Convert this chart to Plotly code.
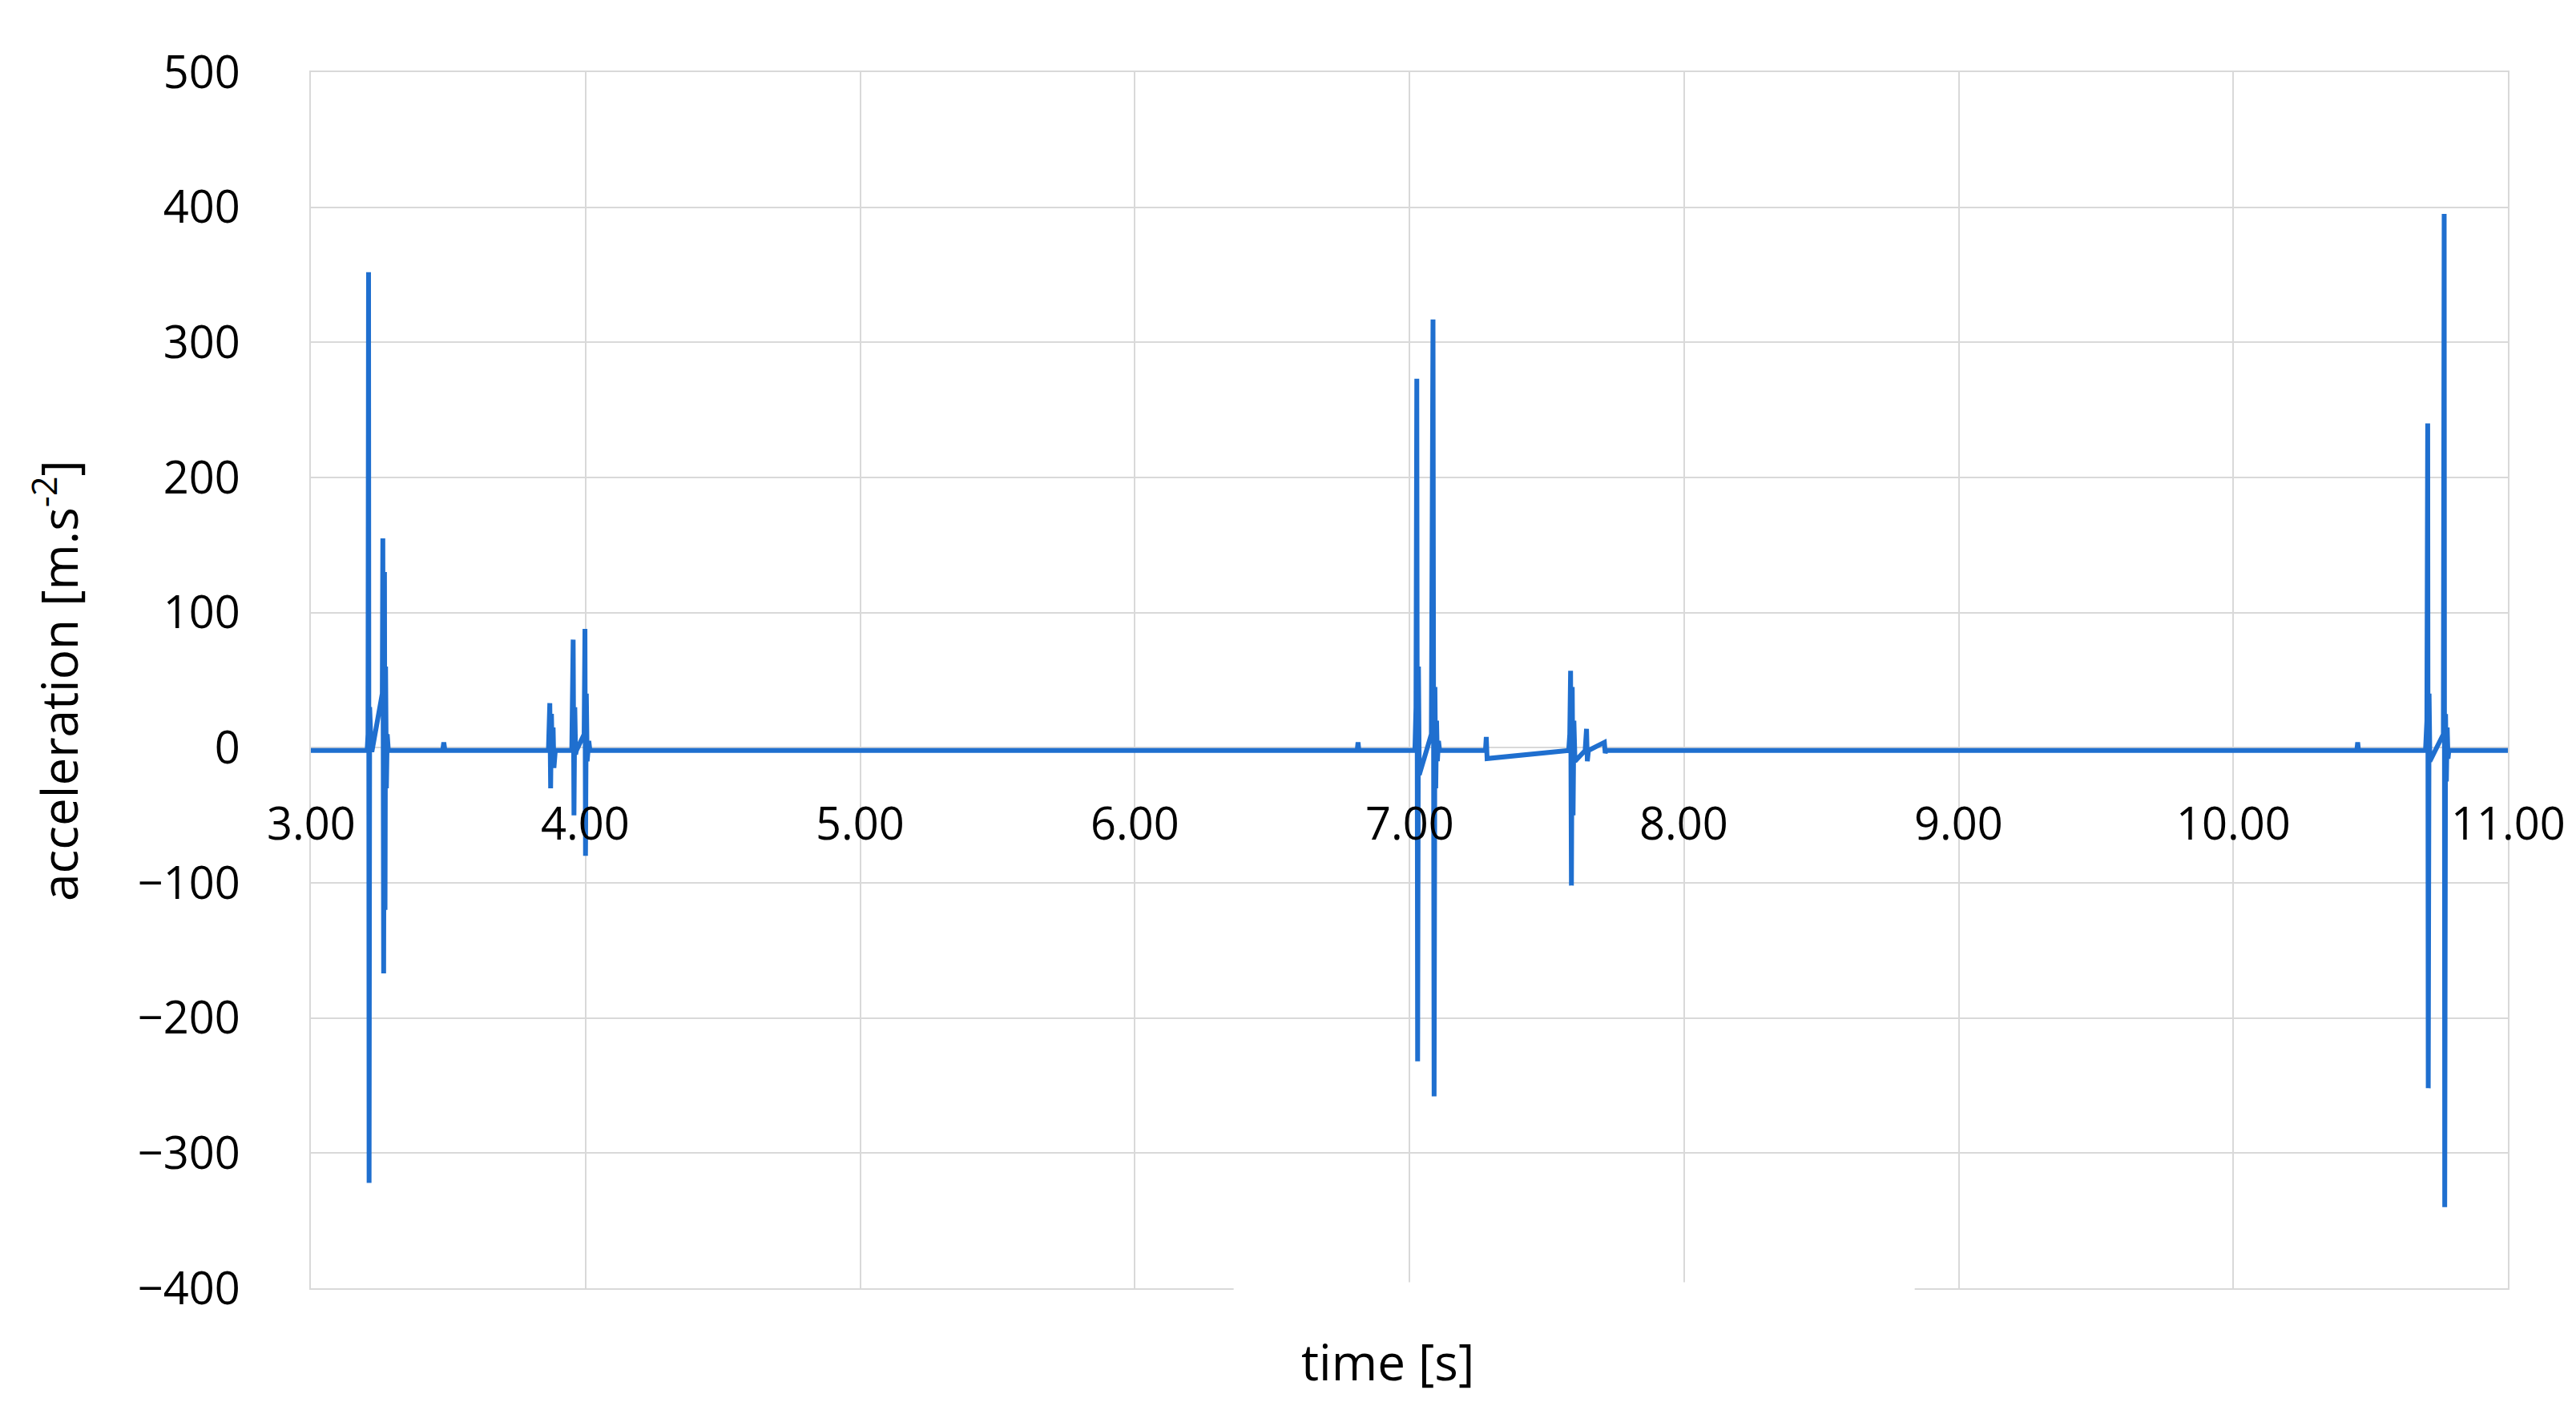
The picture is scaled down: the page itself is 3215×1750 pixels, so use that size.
import plotly.graph_objects as go

# time [s] and acceleration [m.s^-2]
time_s = [3.00, 3.205, 3.208, 3.21, 3.212, 3.214, 3.216, 3.218, 3.222, 3.26, 3.262, 3.265, 3.268, 3.27, 3.272, 3.275, 3.278, 3.282,
          3.48, 3.484, 3.488, 3.865, 3.87, 3.873, 3.876, 3.879, 3.882, 3.885, 3.89, 3.95, 3.955, 3.958, 3.961, 3.964, 3.967,
          3.995, 3.998, 4.00, 4.003, 4.006, 4.012, 4.016,
          6.81, 6.813, 6.816, 7.02, 7.024, 7.027, 7.03, 7.033, 7.036, 7.08, 7.083, 7.086, 7.09, 7.093, 7.096, 7.099, 7.102, 7.106, 7.11,
          7.277, 7.28, 7.283, 7.58, 7.584, 7.587, 7.59, 7.593, 7.596, 7.599, 7.603, 7.64, 7.645, 7.648, 7.652, 7.71, 7.713, 7.716,
          10.45, 10.453, 10.456, 10.70, 10.705, 10.708, 10.71, 10.713, 10.716, 10.765, 10.768, 10.77, 10.773, 10.776, 10.779, 10.782, 10.785, 10.79, 11.00]
accel = [-2, -2, 10, 352, -322, 30, -20, 8, -3, 40, 155, -167, 130, -120, 60, -30, 10, -2,
         -2, 4, -2, -2, 33, -30, 25, -10, 15, -15, -2, -2, 80, -50, 30, -5, -2,
         10, 88, -80, 40, -10, 5, -2,
         -2, 4, -2, -2, 30, 273, -232, 60, -20, 10, 230, 317, -258, 45, -30, 20, -10, 5, -2,
         -2, 8, -8, -2, 10, 57, -102, 45, -50, 20, -10, -2, 14, -10, -2, 4, -4, -2,
         -2, 4, -2, -2, 20, 240, -252, 40, -10, 10, 395, -340, 25, -25, 15, -8, -2, -2, -2]

x_tick_vals = [3, 4, 5, 6, 7, 8, 9, 10, 11]
x_tick_labels = ["3.00", "4.00", "5.00", "6.00", "7.00", "8.00", "9.00", "10.00", "11.00"]

FONT = "Open Sans"
fig = go.Figure(go.Scatter(x=time_s, y=accel, mode="lines",
                           line=dict(color="#1f6fcf", width=6)))

for v, lab in zip(x_tick_vals, x_tick_labels):
    fig.add_annotation(x=v, y=-55, text=lab, showarrow=False, xanchor="center", yanchor="middle",
                       font=dict(family=FONT, size=56, color="#000000"))

fig.add_annotation(xref="paper", yref="paper", x=0.49, y=-0.06, text="time [s]", showarrow=False,
                   yanchor="middle", font=dict(family=FONT, size=62, color="#000000"))
fig.add_annotation(xref="paper", yref="paper", x=-0.116, y=0.5, text="acceleration [m.s<sup>-2</sup>]",
                   showarrow=False, textangle=-90, xanchor="center",
                   font=dict(family=FONT, size=62, color="#000000"))
# white gap in bottom border behind axis title
fig.add_shape(type="rect", xref="paper", yref="paper", x0=0.42, x1=0.73, y0=-0.01, y1=0.005,
              fillcolor="white", line=dict(width=0), layer="above")

fig.update_layout(
    width=3215, height=1750, paper_bgcolor="white", plot_bgcolor="white", showlegend=False,
    margin=dict(l=380, r=93, t=82, b=150),
    xaxis=dict(range=[3, 11], tickvals=x_tick_vals, showticklabels=False, showgrid=True,
               gridcolor="#d9d9d9", gridwidth=2, zeroline=False, showline=True, mirror=True,
               linecolor="#d9d9d9", linewidth=2),
    yaxis=dict(range=[-400, 500], dtick=100, showgrid=True, gridcolor="#d9d9d9", gridwidth=2,
               zeroline=False, showline=True, mirror=True, linecolor="#d9d9d9", linewidth=2,
               ticks="", ticklabelstandoff=75, tickfont=dict(family=FONT, size=56, color="#000000")),
)
fig.write_html("out.html")
